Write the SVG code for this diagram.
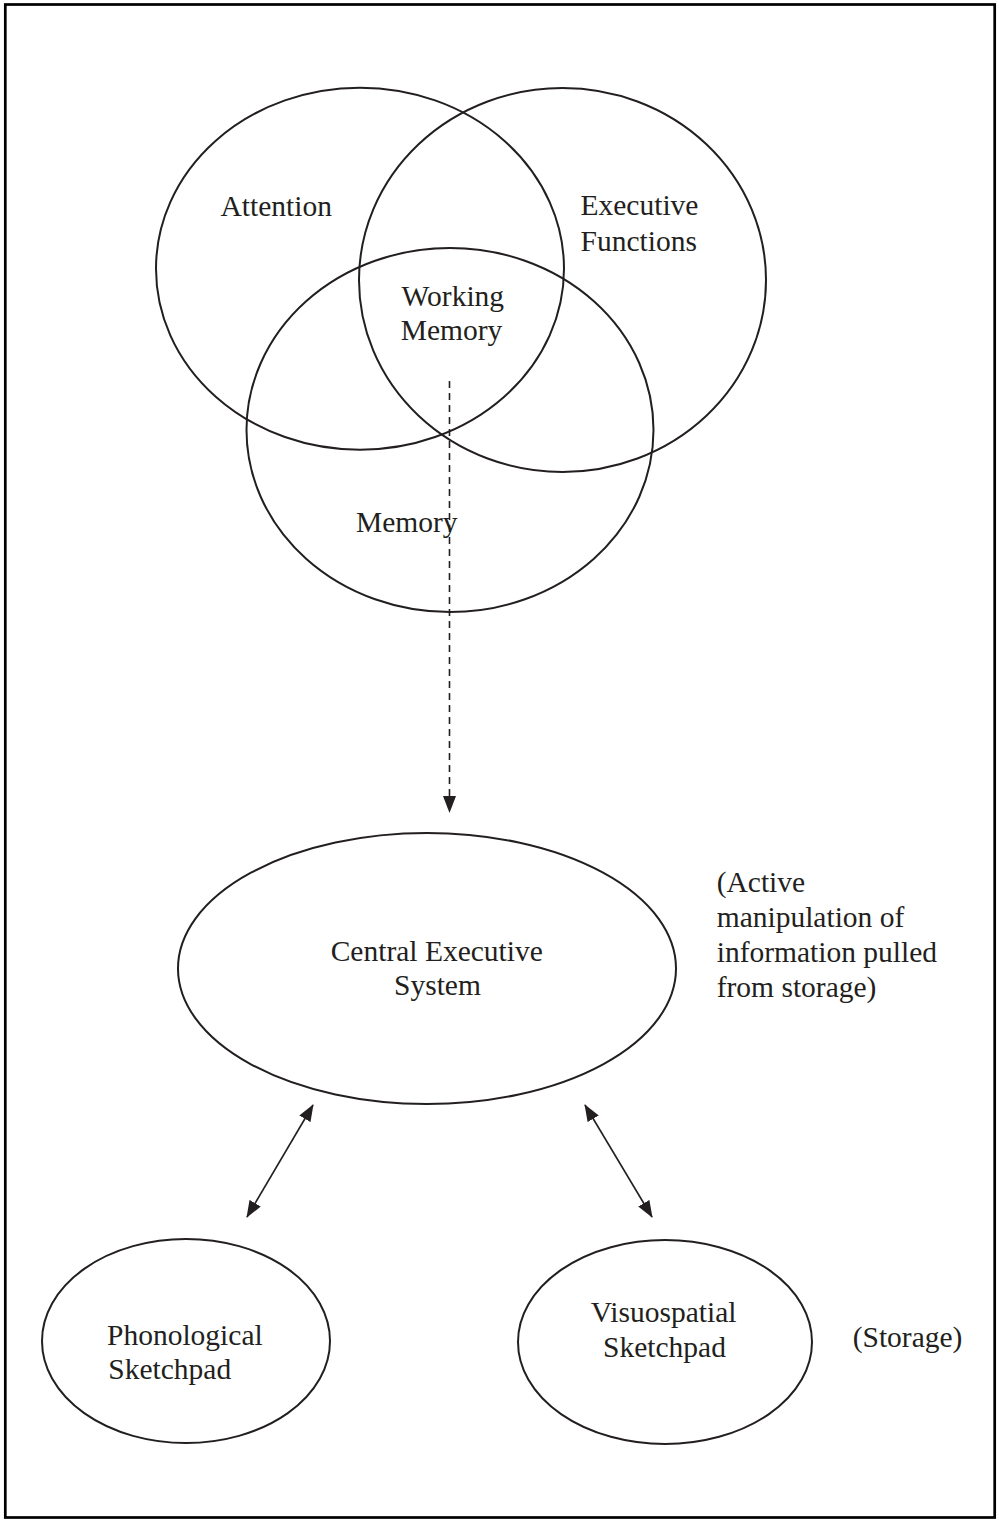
<svg xmlns="http://www.w3.org/2000/svg" width="999" height="1520" viewBox="0 0 999 1520">
<style>
.node{fill:none;stroke:#231f20;stroke-width:2}
.lbl{font-family:"Liberation Serif","Times New Roman",serif;font-size:29.5px;fill:#231f20}
.conn{stroke:#231f20;stroke-width:1.6;fill:none}
</style>
<defs>
<marker id="ah" viewBox="0 0 17 13" markerWidth="17" markerHeight="13" refX="16" refY="6.5" orient="auto-start-reverse" markerUnits="userSpaceOnUse">
<path d="M0,0 L17,6.5 L0,13 z" fill="#231f20"/>
</marker>
</defs>
<rect x="5.3" y="4.5" width="989.4" height="1513" fill="#fff" stroke="#000" stroke-width="2.7"/>

<g id="attention">
<ellipse class="node" cx="360" cy="268.7" rx="204" ry="181"/>
<text class="lbl" x="220.5" y="216">Attention</text>
</g>
<g id="executive-functions">
<ellipse class="node" cx="562.5" cy="280" rx="203.5" ry="192"/>
<text class="lbl" x="580.5" y="214.5">Executive</text>
<text class="lbl" x="580.5" y="250.5">Functions</text>
</g>
<g id="memory">
<ellipse class="node" cx="450" cy="430" rx="203.5" ry="182"/>
<text class="lbl" x="356" y="531.5">Memory</text>
</g>
<g id="working-memory">
<text class="lbl" x="401.6" y="306">Working</text>
<text class="lbl" x="400.7" y="340">Memory</text>
</g>
<g id="central-executive">
<ellipse class="node" cx="427" cy="968.5" rx="249" ry="135.5"/>
<text class="lbl" x="330.7" y="961">Central Executive</text>
<text class="lbl" x="394" y="995">System</text>
</g>
<g id="active-note">
<text class="lbl" x="716.7" y="891.7">(Active</text>
<text class="lbl" x="716.7" y="927">manipulation of</text>
<text class="lbl" x="716.7" y="961.7">information pulled</text>
<text class="lbl" x="716.7" y="996.7">from storage)</text>
</g>
<g id="phonological">
<ellipse class="node" cx="186" cy="1341" rx="144" ry="102"/>
<text class="lbl" x="107" y="1345">Phonological</text>
<text class="lbl" x="108.3" y="1379.3">Sketchpad</text>
</g>
<g id="visuospatial">
<ellipse class="node" cx="665" cy="1342" rx="147" ry="102"/>
<text class="lbl" x="590.8" y="1321.7">Visuospatial</text>
<text class="lbl" x="603" y="1356.7">Sketchpad</text>
</g>
<g id="storage-note">
<text class="lbl" x="852.7" y="1346.7">(Storage)</text>
</g>

<g id="connectors">
<line class="conn" x1="449.5" y1="381" x2="449.5" y2="812" stroke-dasharray="7,5" marker-end="url(#ah)"/>
<line class="conn" x1="313" y1="1105" x2="247" y2="1217" marker-start="url(#ah)" marker-end="url(#ah)"/>
<line class="conn" x1="585" y1="1105" x2="652" y2="1217" marker-start="url(#ah)" marker-end="url(#ah)"/>
</g>
</svg>
